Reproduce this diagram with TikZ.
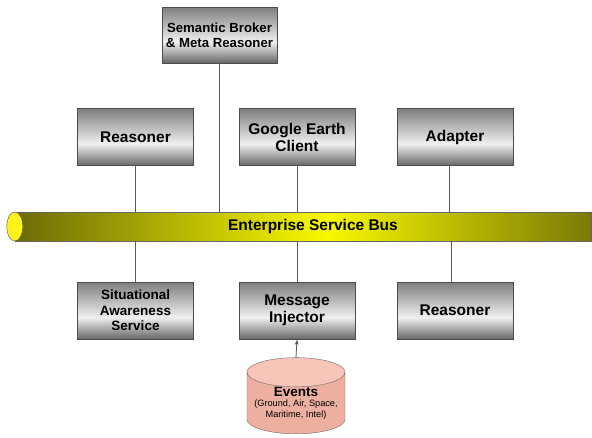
\documentclass[tikz,border=0pt]{standalone}
\usepackage{fontspec}
\setmainfont{Liberation Sans}
\usetikzlibrary{shapes.geometric}
\definecolor{boxdark}{HTML}{666666}
\definecolor{boxtop}{HTML}{7E7E7E}
\definecolor{busdark}{HTML}{6B6B08}
\definecolor{busbright}{HTML}{F8F800}
\definecolor{evbody}{HTML}{EDB0A0}
\definecolor{evend}{HTML}{F8C6B8}
\pgfdeclareverticalshading{boxshade}{100bp}{color(0bp)=(boxdark); color(25bp)=(boxdark); color(44bp)=(white!94!black); color(75bp)=(boxtop); color(100bp)=(boxtop)}
\pgfdeclarehorizontalshading{busshade}{100bp}{color(0bp)=(busdark); color(25bp)=(busdark); color(52bp)=(busbright); color(75bp)=(busdark!90!yellow); color(100bp)=(busdark!90!yellow)}
\tikzset{
  box/.style={shape=rectangle,draw=black!70,shading=boxshade,minimum width=116pt,minimum height=57pt,align=center,font=\bfseries\fontsize{15.5}{17}\selectfont,inner sep=1pt},
  wire/.style={draw=black!65,line width=0.8pt}
}
\begin{document}
\begin{tikzpicture}[x=1pt,y=-1pt]
        \useasboundingbox (0,0) rectangle (592,437);
        \node[box,minimum width=115pt,minimum height=56pt,font=\bfseries\fontsize{13.2}{16}\selectfont] (broker) at (219.5, 35) {Semantic Broker\\[-1pt]\& Meta Reasoner};
        \node[box] (reasonerA) at (135.5, 137) {Reasoner};
        \node[box] (earth) at (297, 137) {Google Earth\\Client};
        \node[box] (adapter) at (455, 137) {Adapter};
        \node[shape=rectangle,draw=black!60,shading=busshade,minimum width=576pt,minimum height=29pt,inner sep=0pt,font=\bfseries\fontsize{15.5}{17}\selectfont] (bus) at (303, 226.5) {\hspace*{20pt}Enterprise Service Bus};
        \node[shape=ellipse,draw=black!70,fill=yellow!90!white,minimum width=16pt,minimum height=29pt,inner sep=0pt] (busend) at (bus.west) {};
        \node[box,font=\bfseries\fontsize{13.5}{15.5}\selectfont] (awareness) at (135.5, 310.5) {Situational\\Awareness\\Service};
        \node[box] (injector) at (297, 310.5) {Message\\Injector};
        \node[box] (reasonerB) at (455, 310.5) {Reasoner};
        \node[shape=cylinder,shape border rotate=90,aspect=0.35,draw=black!60,cylinder uses custom fill,cylinder body fill=evbody,cylinder end fill=evend,minimum width=98pt,minimum height=57pt,align=center,inner sep=0pt,font=\fontsize{9.2}{10.5}\selectfont,anchor=south] (events) at (296, 434) {{\bfseries\fontsize{13.5}{15}\selectfont Events}\\(Ground, Air, Space,\\Maritime, Intel)};

	\path[wire] (broker) -- (broker.south |- bus.north);
	\path[wire] (reasonerA) -- (reasonerA.south |- bus.north);
	\path[wire] (earth) -- (earth.south |- bus.north);
	\path[wire] ([xshift=-6pt]adapter.south) -- ([xshift=-6pt]adapter.south |- bus.north);
	\path[wire] (awareness) -- (awareness.north |- bus.south);
	\path[wire] (injector) -- (injector.north |- bus.south);
	\path[wire] ([xshift=-4pt]reasonerB.north) -- ([xshift=-4pt]reasonerB.north |- bus.south);
	\path[wire,->,>=latex] (events.north) -- (injector.south);
\end{tikzpicture}
\end{document}
